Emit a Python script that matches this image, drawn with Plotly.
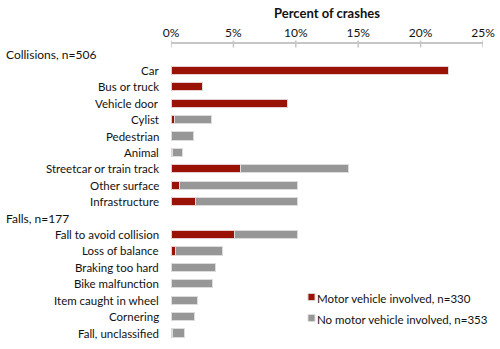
import plotly.graph_objects as go

# Crash causes, percent of all crashes (n=683)
collision_types = ["Car", "Bus or truck", "Vehicle door", "Cylist", "Pedestrian", "Animal",
                   "Streetcar or train track", "Other surface", "Infrastructure"]
collision_motor = [22.2, 2.5, 9.3, 0.3, 0.0, 0.15, 5.55, 0.7, 2.0]
collision_no_motor = [0.0, 0.0, 0.0, 2.95, 1.8, 0.8, 8.7, 9.45, 8.15]

fall_types = ["Fall to avoid collision", "Loss of balance", "Braking too hard", "Bike malfunction",
              "Item caught in wheel", "Cornering", "Fall, unclassified"]
fall_motor = [5.1, 0.4, 0.0, 0.0, 0.0, 0.0, 0.15]
fall_no_motor = [5.05, 3.75, 3.55, 3.3, 2.1, 1.9, 0.9]

group_headers = ["Collisions, n=506", "Falls, n=177"]
series_names = ["Motor vehicle involved, n=330", "No motor vehicle involved, n=353"]
x_ticks = [0, 5, 10, 15, 20, 25]

RED = "#9a1105"
GRAY = "#979797"
AXIS_GRAY = "#c6c6c6"
FONT = "Lato"
TEXT = "#111111"

# Plot-area geometry in pixels (used to place labels outside the axes)
W, H = 500, 349
L, R, T, B = 171, 17, 44, 5
PW, PH = W - L - R, H - T - B


def px_x(px):
    return (px - L) / PW


def px_y(py):
    return (H - B - py) / PH


# Row layout: header, its categories, next header, its categories
rows_y, rows_label, rows_motor, rows_no = [], [], [], []
header_y = []
pos = 0
for header, cats, mv, nmv in [(group_headers[0], collision_types, collision_motor, collision_no_motor),
                              (group_headers[1], fall_types, fall_motor, fall_no_motor)]:
    header_y.append(pos)
    pos += 1
    for c, a, b in zip(cats, mv, nmv):
        rows_y.append(pos)
        rows_label.append(c)
        rows_motor.append(a)
        rows_no.append(b)
        pos += 1

fig = go.Figure()
fig.add_trace(go.Bar(y=rows_y, x=rows_motor, orientation="h", name=series_names[0],
                     marker=dict(color=RED, line=dict(width=1, color="#e3cfcd")), width=0.5,
                     showlegend=False))
fig.add_trace(go.Bar(y=rows_y, x=rows_no, orientation="h", name=series_names[1],
                     marker=dict(color=GRAY, line=dict(width=1, color="#dcdcdc")), width=0.5,
                     showlegend=False))

annotations = []
for y, lab in zip(rows_y, rows_label):
    annotations.append(dict(x=0, xref="paper", y=y, yref="y", text=lab, showarrow=False,
                            xanchor="right", xshift=-10, font=dict(family=FONT, size=11.5, color=TEXT)))
for y, lab in zip(header_y, group_headers):
    annotations.append(dict(x=px_x(4), xref="paper", y=y, yref="y", text=lab, showarrow=False,
                            xanchor="left", font=dict(family=FONT, size=12, color=TEXT)))
annotations.append(dict(x=0.5, xref="paper", y=px_y(13), yref="paper", yanchor="middle",
                        text="<b>Percent of crashes</b>", showarrow=False,
                        font=dict(family=FONT, size=13, color=TEXT)))

# Legend: small squares with labels
shapes = []
legend_rows = [(series_names[0], RED, "#e3cfcd", 297), (series_names[1], GRAY, "#dcdcdc", 318)]
for name, col, edge, cy in legend_rows:
    shapes.append(dict(type="rect", xref="paper", yref="paper",
                       x0=px_x(308), x1=px_x(315), y0=px_y(cy + 3.5), y1=px_y(cy - 3.5),
                       fillcolor=col, line=dict(color=edge, width=1)))
    annotations.append(dict(x=px_x(315), xref="paper", y=px_y(cy + 1), yref="paper", yanchor="middle",
                            xanchor="left", text=name, showarrow=False,
                            font=dict(family=FONT, size=11.5, color=TEXT)))

# Tick marks crossing the axis line
for v in x_ticks:
    shapes.append(dict(type="line", xref="x", yref="paper", x0=v, x1=v,
                       y0=px_y(T + 3.5), y1=px_y(T - 3.5), line=dict(color=AXIS_GRAY, width=1.5)))

fig.update_layout(
    width=W, height=H,
    margin=dict(l=L, r=R, t=T, b=B),
    barmode="stack",
    plot_bgcolor="white", paper_bgcolor="white",
    font=dict(family=FONT, size=12, color=TEXT),
    annotations=annotations,
    shapes=shapes,
    showlegend=False,
    xaxis=dict(side="top", range=[0, 25], tickvals=x_ticks, ticktext=[f"{v}%" for v in x_ticks],
               showgrid=False, zeroline=False, showline=True, linecolor=AXIS_GRAY, linewidth=1.5,
               ticks="", tickfont=dict(family=FONT, size=12, color=TEXT), fixedrange=True),
    yaxis=dict(range=[17.67, -0.61], showticklabels=False, showgrid=False, zeroline=False,
               showline=False, ticks=""),
)

fig.write_html("out.html")
